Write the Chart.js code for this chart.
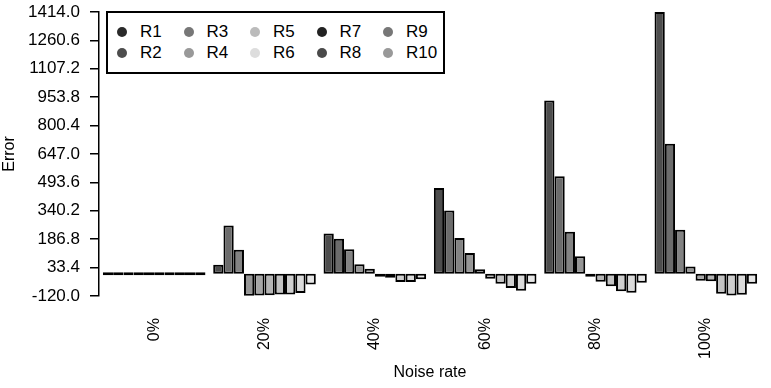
<!DOCTYPE html>
<html lang="en">
<head>
  <meta charset="UTF-8">
  <title>Error by noise rate</title>
  <script src="https://cdn.jsdelivr.net/npm/chart.js"></script>
  <style>
    html, body { margin: 0; padding: 0; background: #fff; }
    .wrap { position: relative; width: 771px; height: 388px; }
    #legend {
      position: absolute; left: 106px; top: 11px;
      width: 339px; height: 63px; box-sizing: border-box;
      border: 2px solid #000; background: #fff;
      display: grid; grid-auto-flow: column;
      grid-template-columns: repeat(5, 66.5px);
      grid-template-rows: 21px 21px;
      padding: 8px 0 0 9px;
      font: 17px "Liberation Sans", Arial, sans-serif; color: #000;
    }
    #legend .item { display: flex; align-items: center; }
    #legend .dot { width: 10px; height: 10px; border-radius: 50%; margin-right: 13px; }
  </style>
</head>
<body>
  <div class="wrap">
    <canvas id="errChart"></canvas>
    <div id="legend"></div>
  </div>

  <script>
    // categories and tick labels
    const noiseRates = ['0%', '20%', '40%', '60%', '80%', '100%'];
    const yTicks = [-120.0, 33.4, 186.8, 340.2, 493.6, 647.0, 800.4, 953.8, 1107.2, 1260.6, 1414.0];
    const seriesNames = ['R1', 'R2', 'R3', 'R4', 'R5', 'R6', 'R7', 'R8', 'R9', 'R10'];

    // one array per series, values at 0%..100% noise
    const r1  = [0,   49,  218,  463,  936, 1414];
    const r2  = [0,  261,  189,  342,  527,  702];
    const r3  = [0,  130,  132,  193,  227,  238];
    const r4  = [0, -118,   51,  112,   95,   40];
    const r5  = [0, -117,   27,   24,   -2,  -38];
    const r6  = [0, -116,  -10,  -27,  -43,  -40];
    const r7  = [0, -112,  -22,  -54,  -67, -108];
    const r8  = [0, -112,  -45,  -77,  -94, -117];
    const r9  = [0, -104,  -45,  -92, -103, -113];
    const r10 = [0,  -58,  -30,  -54,  -49,  -54];
    const seriesValues = [r1, r2, r3, r4, r5, r6, r7, r8, r9, r10];

    const barColors = ['#4d4d4d', '#6c6c6c', '#838383', '#969696', '#a6a6a6',
                       '#b5b5b5', '#c3c3c3', '#cfcfcf', '#dbdbdb', '#e6e6e6'];
    const legendColors = ['#2a2a2a', '#4d4d4d', '#777777', '#999999', '#bbbbbb',
                          '#dddddd', '#222222', '#4a4a4a', '#777777', '#999999'];

    const font = '"Liberation Sans", Arial, sans-serif';

    // HTML legend, filled column by column like the original
    const legendEl = document.getElementById('legend');
    seriesNames.forEach(function(name, i) {
      const item = document.createElement('div');
      item.className = 'item';
      item.innerHTML = '<span class="dot" style="background:' + legendColors[i] + '"></span>' + name;
      legendEl.appendChild(item);
    });

    const datasets = seriesNames.map(function(name, i) {
      return {
        label: name,
        data: seriesValues[i],
        backgroundColor: barColors[i],
        borderColor: '#000',
        borderWidth: 2,
        borderSkipped: false,
        minBarLength: 3,
        categoryPercentage: 0.93,
        barPercentage: 1.0
      };
    });

    new Chart(document.getElementById('errChart'), {
      type: 'bar',
      data: { labels: noiseRates, datasets: datasets },
      options: {
        responsive: true,
        maintainAspectRatio: false,
        animation: false,
        layout: { padding: { top: 12, right: 10, bottom: 6, left: 0 } },
        plugins: {
          legend: { display: false },
          tooltip: { enabled: false }
        },
        scales: {
          x: {
            afterFit: function(scale) { scale.height = 86; },
            grid: { display: false, drawTicks: false },
            border: { display: false },
            ticks: {
              minRotation: 90, maxRotation: 90, padding: 22,
              color: '#000', font: { family: font, size: 16 }
            },
            title: {
              display: true, text: 'Noise rate', color: '#000',
              font: { family: font, size: 16 }, padding: { top: 2, bottom: 0 }
            }
          },
          y: {
            min: -120,
            max: 1414,
            afterBuildTicks: function(scale) {
              scale.ticks = yTicks.map(function(v) { return { value: v }; });
            },
            afterFit: function(scale) {
              scale.width = 99;
              scale.paddingTop = 0;
              scale.paddingBottom = 0;
            },
            grid: {
              drawOnChartArea: false, drawTicks: true, tickLength: 9,
              color: '#000', lineWidth: 1.5
            },
            border: { display: true, color: '#000', width: 1.5 },
            ticks: {
              padding: 10, color: '#000', font: { family: font, size: 17 },
              callback: function(value) { return Number(value).toFixed(1); }
            },
            title: {
              display: true, text: 'Error', color: '#000',
              font: { family: font, size: 16 }, padding: 0
            }
          }
        }
      }
    });
  </script>
</body>
</html>
